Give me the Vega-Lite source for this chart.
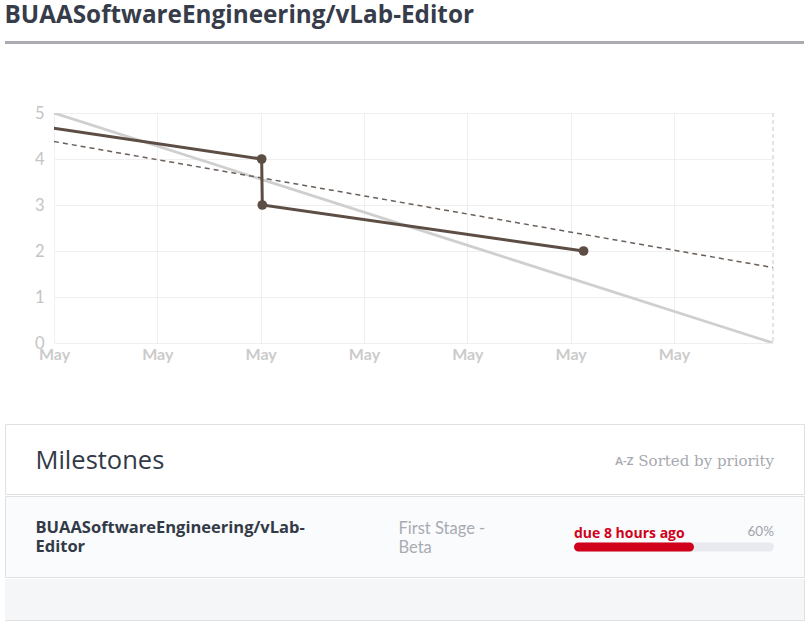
{
  "$schema": "https://vega.github.io/schema/vega-lite/v6.json",
  "background": "white",
  "padding": {"left": 4, "top": 3, "right": 5, "bottom": 4},
  "title": {
    "text": "BUAASoftwareEngineering/vLab-Editor",
    "anchor": "start",
    "frame": "bounds",
    "font": "Open Sans",
    "fontSize": 24.3,
    "fontWeight": "bold",
    "color": "#363c4a",
    "offset": 13
  },
  "datasets": {
    "ideal": [
      {"t": "2020-05-18T00:00:00", "v": 5},
      {"t": "2020-05-24T23:00:00", "v": 0}
    ],
    "trend": [
      {"t": "2020-05-18T00:00:00", "v": 4.38},
      {"t": "2020-05-24T23:00:00", "v": 1.64}
    ],
    "actual": [
      {"t": "2020-05-17T00:00:00", "v": 5},
      {"t": "2020-05-20T00:14:00", "v": 4},
      {"t": "2020-05-20T00:23:00", "v": 3},
      {"t": "2020-05-23T03:00:00", "v": 2}
    ],
    "due": [
      {"t": "2020-05-24T23:00:00"}
    ],
    "milestones": [
      {
        "heading": "Milestones",
        "sort": "Sorted by priority",
        "icon": "A-Z",
        "milestone": "BUAASoftwareEngineering/vLab-Editor",
        "name": "BUAASoftwareEngineering/vLab-\nEditor",
        "stage": "First Stage -\nBeta",
        "due": "due 8 hours ago",
        "start": 0,
        "progress": 60,
        "total": 100,
        "progress_label": "60%"
      }
    ]
  },
  "spacing": 61,
  "vconcat": [
    {
      "width": 799,
      "height": 3,
      "view": {"fill": "#aaabb3", "stroke": null},
      "data": {"values": [{}]},
      "mark": {"type": "rect", "color": "#aaabb3"}
    },
    {
      "spacing": 61,
      "vconcat": [
        {
          "spacing": 0,
          "hconcat": [
            {
              "width": 1,
              "height": 1,
              "view": {"stroke": null},
              "data": {"values": [{}]},
              "mark": {"type": "rect", "color": "white", "opacity": 0}
            },
            {
              "width": 719,
              "height": 230,
              "view": {"stroke": null},
              "encoding": {
                "x": {
                  "field": "t",
                  "type": "temporal",
                  "scale": {
                    "domain": [
                      {"year": 2020, "month": "may", "date": 18},
                      {"year": 2020, "month": "may", "date": 24, "hours": 23}
                    ],
                    "nice": false
                  },
                  "axis": {
                    "title": null,
                    "format": "%b",
                    "tickCount": {"interval": "day", "step": 1},
                    "labelFlush": false,
                    "labelOverlap": false,
                    "ticks": false,
                    "domain": false,
                    "grid": true,
                    "gridColor": "#efefef",
                    "labelColor": "#cbcbcb",
                    "labelFont": "Lato",
                    "labelFontSize": 16,
                    "labelFontWeight": "bold",
                    "labelPadding": 3
                  }
                }
              },
              "layer": [
                {
                  "data": {"name": "ideal"},
                  "mark": {"type": "line", "color": "#cfcfcf", "strokeWidth": 2.8, "clip": true},
                  "encoding": {
                    "y": {
                      "field": "v",
                      "type": "quantitative",
                      "scale": {"domain": [0, 5], "nice": false},
                      "axis": {
                        "title": null,
                        "values": [0, 1, 2, 3, 4, 5],
                        "ticks": false,
                        "domain": false,
                        "grid": true,
                        "gridColor": "#efefef",
                        "labelColor": "#c4c4c4",
                        "labelFont": "Lato",
                        "labelFontSize": 16.5,
                        "labelPadding": 10,
                        "minExtent": 48,
                        "maxExtent": 48
                      }
                    }
                  }
                },
                {
                  "data": {"name": "trend"},
                  "mark": {"type": "line", "color": "#6a605a", "strokeWidth": 1.5, "strokeDash": [5, 4], "clip": true},
                  "encoding": {"y": {"field": "v", "type": "quantitative"}}
                },
                {
                  "data": {"name": "due"},
                  "mark": {"type": "rule", "color": "#c8c8c8", "strokeWidth": 1, "strokeDash": [4, 3]},
                  "encoding": {}
                },
                {
                  "data": {"name": "actual"},
                  "mark": {"type": "line", "color": "#5c4d45", "strokeWidth": 3, "clip": true},
                  "encoding": {"y": {"field": "v", "type": "quantitative"}}
                },
                {
                  "data": {"name": "actual"},
                  "mark": {"type": "point", "filled": true, "opacity": 1, "color": "#5c4d45", "size": 95, "clip": true},
                  "encoding": {"y": {"field": "v", "type": "quantitative"}}
                }
              ]
            }
          ]
        },
        {
          "spacing": 0,
          "vconcat": [
            {
              "width": 799,
              "height": 70,
              "view": {"stroke": "#dfe0e4", "fill": "white"},
              "data": {"name": "milestones"},
              "layer": [
                {
                  "mark": {"type": "text", "align": "left", "baseline": "middle", "dx": -369, "dy": 1.5, "font": "Open Sans", "fontSize": 25.5, "color": "#333a47"},
                  "encoding": {"text": {"field": "heading", "type": "nominal"}}
                },
                {
                  "mark": {"type": "text", "align": "right", "baseline": "middle", "dx": 369.5, "dy": 1.5, "font": "DejaVu Serif", "fontSize": 15, "color": "#a7a9b0"},
                  "encoding": {"text": {"field": "sort", "type": "nominal"}}
                },
                {
                  "mark": {"type": "text", "align": "right", "baseline": "middle", "dx": 229, "dy": 2.5, "font": "Lato", "fontSize": 11, "fontWeight": "bold", "color": "#a7a9b0"},
                  "encoding": {"text": {"field": "icon", "type": "nominal"}}
                }
              ]
            },
            {
              "width": 799,
              "height": 81,
              "view": {"stroke": "#dfe0e4", "fill": "#fafbfc"},
              "data": {"name": "milestones"},
              "layer": [
                {
                  "mark": {"type": "text", "align": "left", "baseline": "middle", "dx": -369, "dy": -8.9, "lineBreak": "\n", "lineHeight": 19.5, "font": "Open Sans", "fontSize": 16.5, "fontWeight": "bold", "color": "#333a47"},
                  "encoding": {"text": {"field": "name", "type": "nominal"}}
                },
                {
                  "mark": {"type": "text", "align": "left", "baseline": "middle", "dx": -6, "dy": -8, "lineBreak": "\n", "lineHeight": 19.2, "font": "Lato", "fontSize": 16.5, "color": "#a9abb3"},
                  "encoding": {"text": {"field": "stage", "type": "nominal"}}
                },
                {
                  "mark": {"type": "bar", "height": 9, "yOffset": 10.5, "cornerRadius": 4.5, "color": "#e9eaef"},
                  "encoding": {
                    "x": {"field": "start", "type": "quantitative", "scale": {"domain": [0, 100], "range": [569, 769]}, "axis": null},
                    "x2": {"field": "total"},
                    "y": {"field": "milestone", "type": "nominal", "axis": null}
                  }
                },
                {
                  "mark": {"type": "bar", "height": 9, "yOffset": 10.5, "cornerRadius": 4.5, "color": "#d0021b"},
                  "encoding": {
                    "x": {"field": "start", "type": "quantitative"},
                    "x2": {"field": "progress"},
                    "y": {"field": "milestone", "type": "nominal"}
                  }
                },
                {
                  "mark": {"type": "text", "align": "left", "baseline": "alphabetic", "dy": 1.5, "font": "Open Sans", "fontSize": 14, "fontWeight": "bold", "color": "#d0021b"},
                  "encoding": {
                    "x": {"field": "start", "type": "quantitative"},
                    "y": {"field": "milestone", "type": "nominal"},
                    "text": {"field": "due", "type": "nominal"}
                  }
                },
                {
                  "mark": {"type": "text", "align": "right", "baseline": "alphabetic", "dy": -1, "font": "Lato", "fontSize": 13.5, "color": "#a0a3ab"},
                  "encoding": {
                    "x": {"field": "total", "type": "quantitative"},
                    "y": {"field": "milestone", "type": "nominal"},
                    "text": {"field": "progress_label", "type": "nominal"}
                  }
                }
              ]
            },
            {
              "width": 799,
              "height": 41,
              "view": {"stroke": "#dfe0e4", "fill": "#f5f6f8"},
              "data": {"values": [{}]},
              "mark": {"type": "rect", "color": "#f5f6f8"}
            }
          ]
        }
      ]
    }
  ],
  "config": {
    "view": {"stroke": null},
    "text": {"font": "Lato"}
  }
}
